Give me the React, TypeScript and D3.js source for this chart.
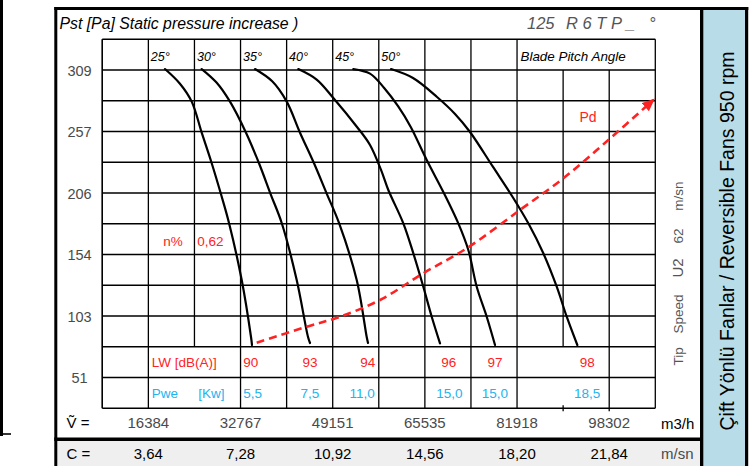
import React from 'react';
import * as d3 from 'd3';

const W = 755;
const H = 466;

// ---- data ----
const angleLabels = ['25°', '30°', '35°', '40°', '45°', '50°'];
const angleFlows = [16384, 24576, 32768, 40960, 49152, 57344];

const curve25: [number, number][] = [[19341, 309.8], [22000, 297.5], [24088, 282.5], [25866, 256.5], [27643, 230.9], [29297, 204.9], [30718, 180.9], [32976, 133.1], [34630, 85.4], [34807, 78.7]];
const curve30: [number, number][] = [[25866, 309.8], [28500, 298.5], [30896, 282.5], [33741, 256.5], [36051, 230.9], [38132, 204.9], [40087, 180.9], [42753, 133.1], [44763, 85.4], [45118, 80.4]];
const curve35: [number, number][] = [[35341, 309.8], [38400, 299.5], [40976, 282.5], [43340, 256.5], [45829, 230.9], [48140, 204.9], [50273, 180.9], [53420, 133.1], [55197, 85.4], [55429, 80.4]];
const curve40: [number, number][] = [[43038, 309.8], [46300, 301.0], [49261, 285.6], [53473, 261.3], [55784, 246.2], [57740, 225.3], [59037, 208.5], [61704, 180.6], [63482, 155.5], [65259, 127.5], [66752, 102.4], [68228, 80.1]];
const curve45: [number, number][] = [[52816, 309.8], [55784, 306.0], [58300, 294.0], [60800, 278.5], [63000, 261.5], [65864, 233.6], [69000, 205.2], [71481, 180.6], [73259, 158.3], [74752, 127.5], [76530, 102.4], [78006, 78.7]];
const curve50: [number, number][] = [[59517, 309.8], [63428, 302.3], [67695, 286.4], [70894, 272.2], [73561, 257.1], [77650, 227.8], [81028, 203.5], [83925, 180.6], [86591, 155.5], [88974, 127.5], [90752, 102.4], [92636, 78.7]];
const bladeCurves = [curve25, curve30, curve35, curve40, curve45, curve50];

const pdCurve: [number, number][] = [[35643, 80.6], [44531, 94.0], [50451, 102.4], [57562, 116.4], [65259, 138.8], [72973, 159.7], [82450, 191.8], [90148, 218.3], [98146, 250.4], [106146, 283.9]];

const yTickValues = [309, 257.5, 206, 154.5, 103, 51.5];
const yTickLabels = ['309', '257', '206', '154', '103', '51'];

const vValues = [16384, 32767, 49151, 65535, 81918, 98302];
const vLabels = ['16384', '32767', '49151', '65535', '81918', '98302'];
const cLabels = ['3,64', '7,28', '10,92', '14,56', '18,20', '21,84'];

const lwLabels = ['90', '93', '94', '96', '97', '98'];
const lwFlows = [34600, 45100, 55400, 69800, 78000, 94400];
const pweLabels = ['5,5', '7,5', '11,0', '15,0', '15,0', '18,5'];
const pweFlows = [34900, 45100, 54400, 69900, 78000, 94400];

const colStep = 8192; // flow per grid column
const rowStep = 25.75; // Pa per grid row
const nCols = 13;
const nRows = 13;

const FONT = '"Liberation Sans", Arial, Helvetica, sans-serif';
const RED = '#ff2222';
const BLUE = '#22b4ee';
const GRAY = '#4a4a4a';

export default function App() {
  const x = d3.scaleLinear().domain([0, 98302]).range([56.2, 609.2]);
  const y = d3.scaleLinear().domain([0, 309]).range([439, 70]);

  const gx0 = x(colStep);
  const gx1 = x(colStep * nCols);
  const gyTop = y(rowStep * nRows);
  const gyBot = y(rowStep);

  const line = d3
    .line<[number, number]>()
    .x((d) => x(d[0]))
    .y((d) => y(d[1]))
    .curve(d3.curveCatmullRom.alpha(0.5));

  // vertical grid lines with gaps
  const vLines: JSX.Element[] = [];
  for (let k = 1; k <= nCols; k++) {
    const xx = x(colStep * k);
    let top = gyTop;
    let bot = gyBot;
    if (k === 11 || k === 12) top = y(rowStep * 12); // header row gap
    if (k === 3 || k === 11) {
      // gap in the LW / Pwe rows
      vLines.push(<line key={'v' + k} x1={xx} x2={xx} y1={top} y2={y(rowStep * 3)} />);
      if (k === 11) vLines.push(<line key={'vt' + k} x1={xx} x2={xx} y1={gyBot - 3} y2={gyBot + 3} />);
      continue;
    }
    if (k === 12) bot = gyBot + 3;
    vLines.push(<line key={'v' + k} x1={xx} x2={xx} y1={top} y2={bot} />);
  }
  const hLines: JSX.Element[] = [];
  for (let r = 1; r <= nRows; r++) {
    const yy = y(rowStep * r);
    hLines.push(<line key={'h' + r} x1={gx0} x2={gx1} y1={yy} y2={yy} />);
  }

  return (
    <svg width={W} height={H} style={{ position: 'absolute', left: 0, top: 0, background: '#fff' }} fontFamily={FONT}>
      <defs>
        <marker id="arrow" viewBox="0 0 12 10" refX="10" refY="5" markerWidth="13" markerHeight="11" markerUnits="userSpaceOnUse" orient="auto">
          <path d="M0,0 L12,5 L0,10 Z" fill={RED} />
        </marker>
      </defs>

      {/* backgrounds */}
      <rect x={57.3} y={441} width={643} height={25} fill="#efefef" />
      <rect x={703} y={10} width={42.5} height={456} fill="#b8dde9" />

      {/* left remnant */}
      <rect x={0} y={0} width={3} height={436} fill="#000" />
      <line x1={0} x2={11} y1={434} y2={434} stroke="#000" strokeWidth={1.6} />

      {/* frame */}
      <g fill="#000">
        <rect x={54.3} y={7} width={694} height={3} />
        <rect x={54.3} y={7} width={3} height={459} />
        <rect x={700} y={7} width={3.3} height={459} />
        <rect x={745} y={7} width={3.2} height={459} />
        <rect x={54.3} y={437.5} width={648} height={3.5} />
      </g>

      {/* grid */}
      <g stroke="#000" strokeWidth={1.3}>
        {vLines}
        {hLines}
        <line x1={gx0} x2={gx0} y1={gyTop} y2={gyBot} />
      </g>

      {/* title texts */}
      <text x={59.5} y={28.5} fontSize={15.8} fontStyle="italic" fill="#000">
        Pst [Pa] Static pressure increase )
      </text>
      <g fontSize={16.5} fontStyle="italic" fill="#555">
        <text x={527} y={29.3}>125</text>
        <text x={566} y={29.3} style={{ whiteSpace: 'pre' }}>R 6 T P _</text>
        <text x={649} y={29.3}>°</text>
      </g>

      {/* angle labels */}
      <g fontSize={12.5} fontStyle="italic" fill="#000">
        {angleLabels.map((a, i) => (
          <text key={a} x={x(angleFlows[i]) + 2.5} y={60.5}>
            {a}
          </text>
        ))}
        <text x={520.5} y={60.7} fontSize={13.4}>Blade Pitch Angle</text>
      </g>

      {/* y ticks */}
      <g fontSize={14.5} fill={GRAY} textAnchor="middle">
        {yTickValues.map((v, i) => (
          <text key={v} x={79.5} y={y(v) + 5.5}>
            {yTickLabels[i]}
          </text>
        ))}
      </g>

      {/* blade curves */}
      <g fill="none" stroke="#000" strokeWidth={2.2} strokeLinecap="round">
        {bladeCurves.map((c, i) => (
          <path key={i} d={line(c) || ''} />
        ))}
      </g>

      {/* Pd dashed */}
      <path d={line(pdCurve) || ''} fill="none" stroke={RED} strokeWidth={2.6} strokeDasharray="8,5" markerEnd="url(#arrow)" />
      <text x={579.5} y={122.3} fontSize={14} fill={RED}>Pd</text>

      {/* efficiency */}
      <text x={163.3} y={245.5} fontSize={13.5} fill={RED}>n%</text>
      <text x={197.3} y={245.5} fontSize={13.5} fill={RED}>0,62</text>

      {/* LW row */}
      <text x={151.7} y={367.3} fontSize={13.5} fill={RED}>LW [dB(A)]</text>
      <g fontSize={13.5} fill={RED} textAnchor="middle">
        {lwLabels.map((l, i) => (
          <text key={i} x={x(lwFlows[i])} y={367.3}>{l}</text>
        ))}
      </g>

      {/* Pwe row */}
      <text x={151.7} y={397.7} fontSize={13.5} fill={BLUE}>Pwe</text>
      <text x={198.3} y={397.7} fontSize={13.5} fill={BLUE}>[Kw]</text>
      <g fontSize={13.5} fill={BLUE} textAnchor="middle">
        {pweLabels.map((l, i) => (
          <text key={i} x={x(pweFlows[i])} y={397.7}>{l}</text>
        ))}
      </g>

      {/* V row */}
      <text x={66.5} y={428.3} fontSize={15} fill="#000">Ṽ =</text>
      <g fontSize={15} fill={GRAY} textAnchor="middle">
        {vValues.map((v, i) => (
          <text key={v} x={x(v)} y={428.3}>{vLabels[i]}</text>
        ))}
      </g>
      <text x={661} y={429.3} fontSize={15} fill="#000">m3/h</text>

      {/* C row */}
      <text x={66.5} y={459} fontSize={15} fill="#000">C =</text>
      <g fontSize={15} fill="#000" textAnchor="middle">
        {vValues.map((v, i) => (
          <text key={v} x={x(v)} y={459}>{cLabels[i]}</text>
        ))}
      </g>
      <text x={661} y={459} fontSize={15} fill={GRAY}>m/sn</text>

      {/* tip speed rotated */}
      <g fontSize={13.5} fill="#555" textAnchor="middle">
        <text transform="translate(678,356.3) rotate(-90)" dy="0.35em">Tip</text>
        <text transform="translate(678,314) rotate(-90)" dy="0.35em">Speed</text>
        <text transform="translate(678,268) rotate(-90)" dy="0.35em" fontSize={15}>U2</text>
        <text transform="translate(678,236) rotate(-90)" dy="0.35em">62</text>
        <text transform="translate(678,196) rotate(-90)" dy="0.35em">m/sn</text>
      </g>

      {/* side panel text */}
      <text transform="translate(727,241) rotate(-90)" dy="0.35em" textAnchor="middle" fontSize={19.5} fill="#000">
        Çift Yönlü Fanlar / Reversible Fans 950 rpm
      </text>
    </svg>
  );
}
